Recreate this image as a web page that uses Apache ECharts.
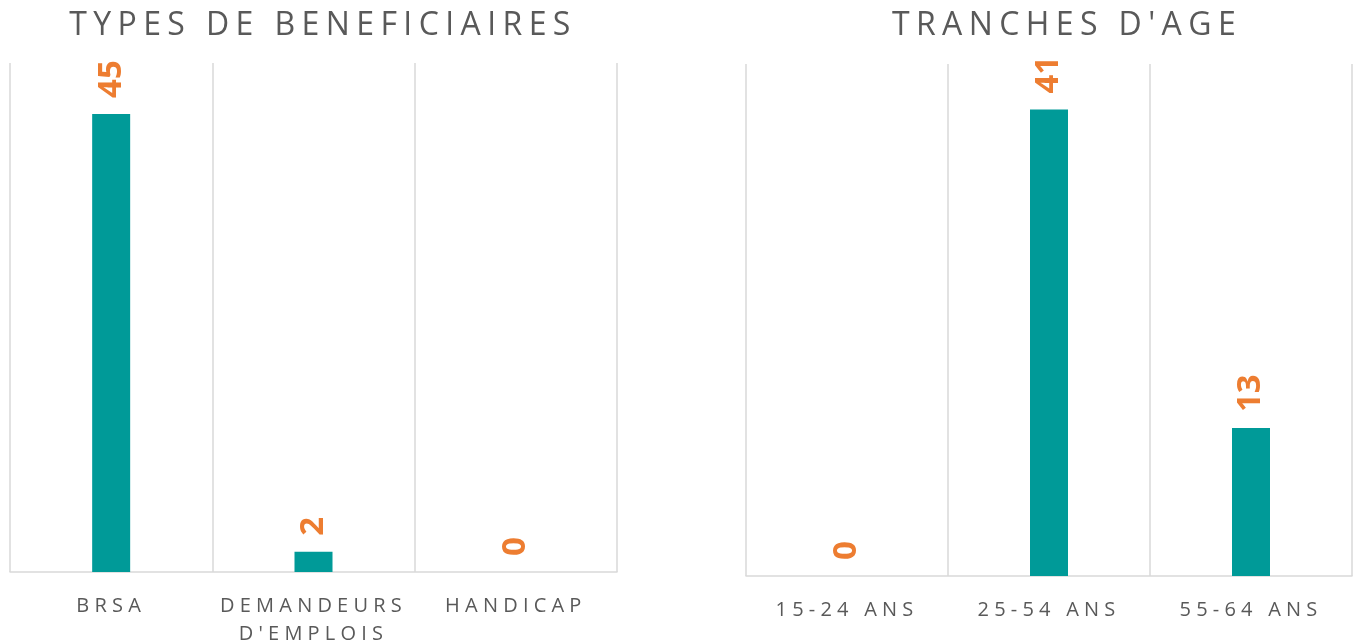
<!DOCTYPE html>
<html><head><meta charset="utf-8">
<script src="https://cdn.jsdelivr.net/npm/echarts@6/dist/echarts.min.js"></script>
<style>html,body{margin:0;padding:0;background:#fff}#c{width:1355px;height:642px}</style>
</head><body><div id="c"></div>
<script>
const titleLeft = 'TYPES DE BENEFICIAIRES';
const titleRight = "TRANCHES D'AGE";
const catsLeft = ['BRSA', "DEMANDEURS D'EMPLOIS", 'HANDICAP'];
const valsLeft = [45, 2, 0];
const catsRight = ['15-24 ANS', '25-54 ANS', '55-64 ANS'];
const valsRight = [0, 41, 13];
const maxLeft = 50;
const maxRight = 45;

// letter spacing for the regular-weight uppercase texts (canvas letterSpacing)
(function(){
  const proto = CanvasRenderingContext2D.prototype;
  const d = Object.getOwnPropertyDescriptor(proto, 'font');
  if (!d || !('letterSpacing' in proto)) return;
  Object.defineProperty(proto, 'font', {
    configurable: true,
    get(){ return d.get.call(this); },
    set(v){
      d.set.call(this, v);
      const m = /(\d+(?:\.\d+)?)px/.exec(v);
      let ls = '0px';
      if (m && !/bold|[6-9]00/.test(v)) {
        const s = parseFloat(m[1]);
        ls = (s >= 28 ? s * 0.2 : s * 0.26).toFixed(2) + 'px';
      }
      this.letterSpacing = ls;
    }
  });
})();

const TXT = '#595959', GRID = '#d9d9d9', BAR = '#009a98', LBL = '#ED7D31';
const FONT = 'Open Sans';

function xAx(gi, data){
  return {
    type: 'category', gridIndex: gi, data: data,
    axisTick: {show: false},
    axisLine: {lineStyle: {color: GRID, width: 1.5}},
    splitLine: {show: true, lineStyle: {color: GRID, width: 1.5}},
    axisLabel: {
      interval: 0, color: TXT, fontFamily: FONT, fontSize: 20, margin: 20, lineHeight: 28,
      formatter: v => v.length > 12 ? v.replace(' ', '\n') : v
    }
  };
}
function yAx(gi, max){
  return {type: 'value', gridIndex: gi, min: 0, max: max, show: false, splitLine: {show: false}};
}
function ser(i, vals){
  return {
    type: 'bar', xAxisIndex: i, yAxisIndex: i, data: vals, barWidth: 38,
    itemStyle: {color: BAR},
    label: {
      show: true, position: 'top', rotate: 90, align: 'left', verticalAlign: 'middle',
      distance: 16, color: LBL, fontFamily: FONT, fontWeight: 'bold', fontSize: 33
    }
  };
}

const chart = echarts.init(document.getElementById('c'), null, {renderer: 'canvas'});
chart.setOption({
  animation: false,
  backgroundColor: '#fff',
  title: [
    {text: titleLeft, left: 318, top: 2, textAlign: 'center',
     textStyle: {color: TXT, fontFamily: FONT, fontWeight: 'normal', fontSize: 32}},
    {text: titleRight, left: 1062, top: 2, textAlign: 'center',
     textStyle: {color: TXT, fontFamily: FONT, fontWeight: 'normal', fontSize: 32}}
  ],
  grid: [
    {left: 10, right: 738, top: 63, bottom: 70, containLabel: false, outerBoundsMode: 'none'},
    {left: 746, right: 3, top: 64, bottom: 66, containLabel: false, outerBoundsMode: 'none'}
  ],
  xAxis: [xAx(0, catsLeft), xAx(1, catsRight)],
  yAxis: [yAx(0, maxLeft), yAx(1, maxRight)],
  series: [ser(0, valsLeft), ser(1, valsRight)]
});
</script>
</body></html>
